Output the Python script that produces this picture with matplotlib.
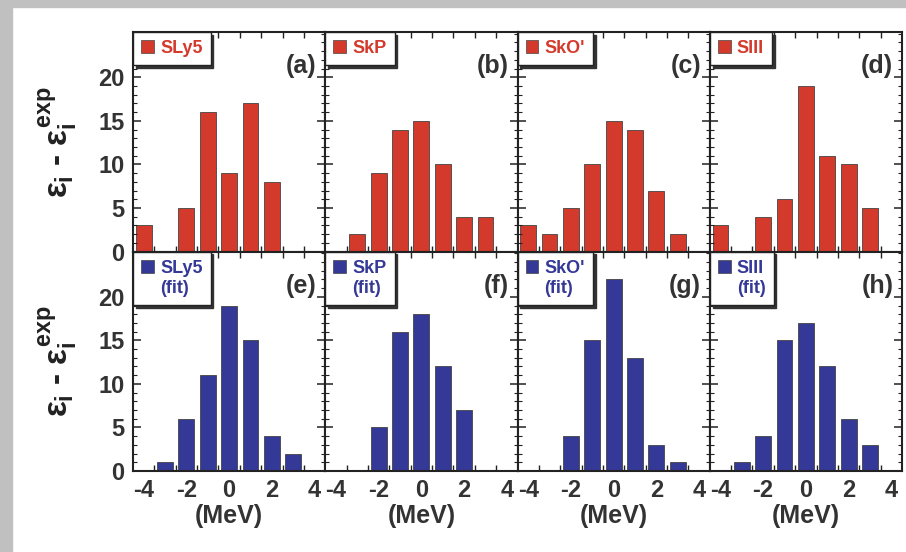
import matplotlib
matplotlib.use("Agg")
import matplotlib.pyplot as plt
from matplotlib.patches import Patch, Rectangle
from matplotlib.ticker import FixedLocator

plt.rcParams["font.family"] = ["Liberation Sans", "DejaVu Sans"]
plt.rcParams["font.weight"] = "bold"
plt.rcParams["axes.unicode_minus"] = False
plt.rcParams["mathtext.fontset"] = "custom"
plt.rcParams["mathtext.rm"] = "Liberation Sans:bold"
plt.rcParams["mathtext.it"] = "Liberation Sans:bold"
plt.rcParams["mathtext.bf"] = "Liberation Sans:bold"

# deviation bins (MeV) and counts per force
bins = [-4, -3, -2, -1, 0, 1, 2, 3, 4]
sly5 = [3, 0, 5, 16, 9, 17, 8, 0, 0]
skp = [0, 2, 9, 14, 15, 10, 4, 4, 0]
sko = [3, 2, 5, 10, 15, 14, 7, 2, 0]
siii = [3, 0, 4, 6, 19, 11, 10, 5, 0]
sly5_fit = [0, 1, 6, 11, 19, 15, 4, 2, 0]
skp_fit = [0, 0, 5, 16, 18, 12, 7, 0, 0]
sko_fit = [0, 0, 4, 15, 22, 13, 3, 1, 0]
siii_fit = [0, 1, 4, 15, 17, 12, 6, 3, 0]

forces = ["SLy5", "SkP", "SkO'", "SIII"]
top_rows = [sly5, skp, sko, siii]
bot_rows = [sly5_fit, skp_fit, sko_fit, siii_fit]
letters_top = ["(a)", "(b)", "(c)", "(d)"]
letters_bot = ["(e)", "(f)", "(g)", "(h)"]
xticks = [-4, -2, 0, 2, 4]
yticks = [0, 5, 10, 15, 20]

red = "#d43a2c"
blue = "#343896"
dark = "#222222"
txt = "#333333"

fig, axes = plt.subplots(2, 4, figsize=(9.06, 5.52), dpi=100, sharex=True, sharey=True)
fig.subplots_adjust(left=133/906, right=902/906, top=1-32/552, bottom=1-471/552,
                    wspace=0, hspace=0)

# grey frame of the page
fig.patches.append(Rectangle((0, 1-7/552), 1, 7/552, transform=fig.transFigure,
                             color="#c0c0c0", zorder=0))
fig.patches.append(Rectangle((0, 0), 12/906, 1, transform=fig.transFigure,
                             color="#c0c0c0", zorder=0))


def draw(ax, counts, color, name, letter, fit):
    ax.bar(bins, counts, width=0.74, color=color, edgecolor="#444444", linewidth=0.6)
    ax.set_xlim(-4.5, 4.5)
    ax.set_ylim(0, 25.2)
    ax.xaxis.set_major_locator(FixedLocator(xticks))
    ax.xaxis.set_minor_locator(FixedLocator([b + 0.5 for b in bins[:-1]]))
    ax.yaxis.set_major_locator(FixedLocator(yticks))
    ax.yaxis.set_minor_locator(FixedLocator(range(0, 26)))
    ax.tick_params(axis="x", which="major", length=0, pad=6, labelsize=17, colors=txt)
    ax.tick_params(axis="x", which="minor", direction="in", length=4, width=1,
                   top=True, bottom=True, color=dark)
    ax.tick_params(axis="y", which="major", direction="in", length=6, width=1.2,
                   left=True, right=True, pad=6, labelsize=17, colors=txt)
    ax.tick_params(axis="y", which="minor", direction="in", length=3, width=0.8,
                   left=True, right=True, color=dark)
    for s in ax.spines.values():
        s.set_color(dark)
        s.set_linewidth(1.5)
    ax.text(0.955, 0.845, letter, transform=ax.transAxes, ha="right", va="center",
            fontsize=18, fontweight="bold", color=txt)
    handles = [Patch(facecolor=color, edgecolor="#444444", linewidth=0.5)]
    labels = [name]
    if fit:
        handles.append(Patch(facecolor="none", edgecolor="none"))
        labels.append("(fit)")
    leg = ax.legend(handles, labels, loc="upper left", bbox_to_anchor=(0, 1),
                    borderaxespad=0, fancybox=False, edgecolor=dark,
                    shadow={"color": "#333333", "alpha": 1}, framealpha=1,
                    handlelength=0.7, handleheight=0.7, handletextpad=0.35,
                    borderpad=0.45, labelspacing=0.2,
                    prop={"weight": "bold", "size": 13}, labelcolor=color)
    leg.get_frame().set_linewidth(1.0)


for j in range(4):
    draw(axes[0, j], top_rows[j], red, forces[j], letters_top[j], False)
    draw(axes[1, j], bot_rows[j], blue, forces[j], letters_bot[j], True)
    axes[1, j].set_xlabel("(MeV)", fontsize=18, fontweight="bold", color=txt, labelpad=1)

ylab = r"$\varepsilon_{i}$ - $\varepsilon_{i}^{exp}$"
for i in range(2):
    pos = axes[i, 0].get_position()
    fig.text(58/906, (pos.y0 + pos.y1) / 2, ylab, rotation=90, ha="center", va="center",
             fontsize=24, fontweight="bold", color=dark)

fig.savefig("out.png", dpi=100)
